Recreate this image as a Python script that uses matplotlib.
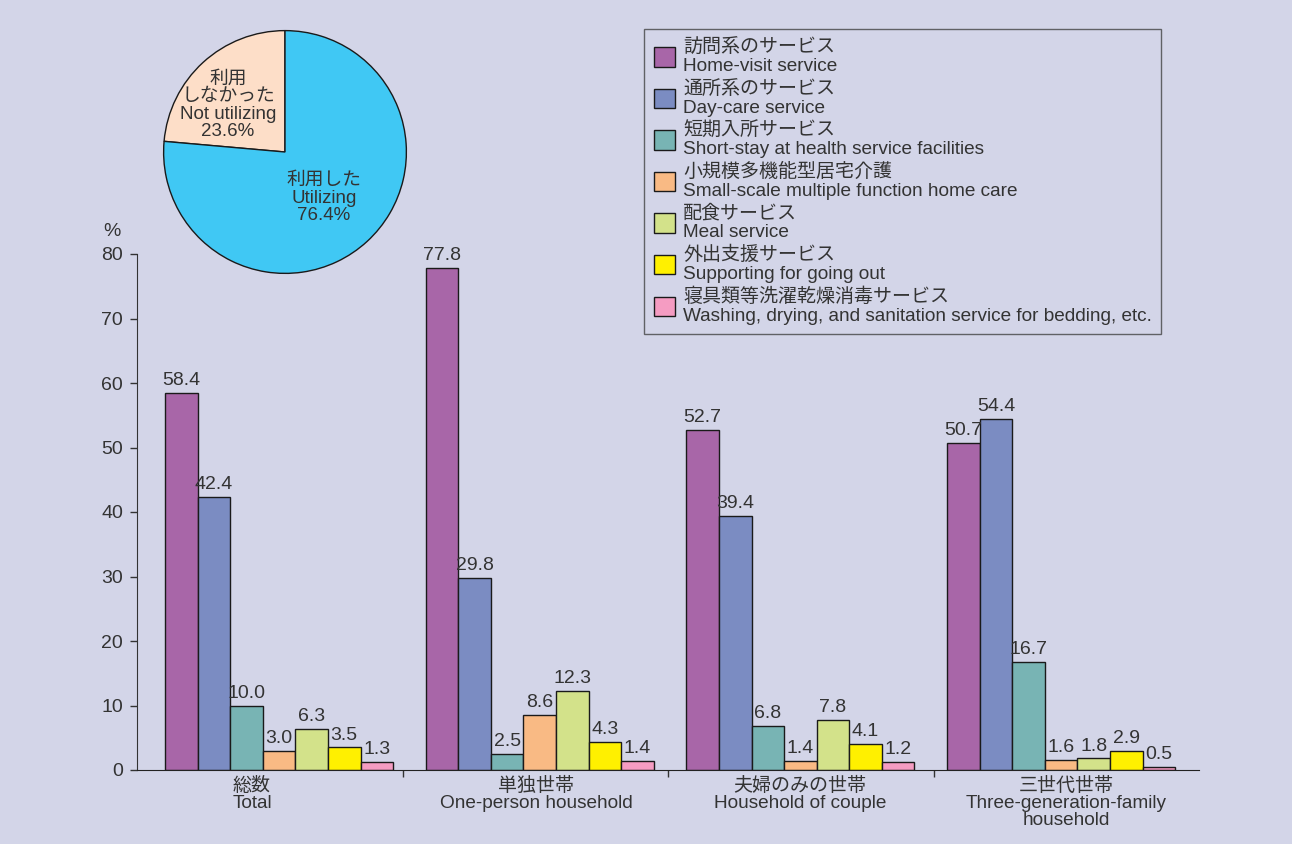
import matplotlib
matplotlib.use("Agg")
import numpy as np
import matplotlib.pyplot as plt
from matplotlib.patches import Patch

plt.rcParams['font.family'] = ['Liberation Sans', 'Noto Sans CJK JP', 'DejaVu Sans']

# === Data ===
groups_jp = ["総数", "単独世帯", "夫婦のみの世帯", "三世代世帯"]
groups_en = ["Total", "One-person household", "Household of couple", "Three-generation-family\nhousehold"]

services_jp = ["訪問系のサービス", "通所系のサービス", "短期入所サービス", "小規模多機能型居宅介護",
               "配食サービス", "外出支援サービス", "寝具類等洗濯乾燥消毒サービス"]
services_en = ["Home-visit service", "Day-care service", "Short-stay at health service facilities",
               "Small-scale multiple function home care", "Meal service", "Supporting for going out",
               "Washing, drying, and sanitation service for bedding, etc."]

home_visit = [58.4, 77.8, 52.7, 50.7]
day_care = [42.4, 29.8, 39.4, 54.4]
short_stay = [10.0, 2.5, 6.8, 16.7]
small_scale = [3.0, 8.6, 1.4, 1.6]
meal = [6.3, 12.3, 7.8, 1.8]
going_out = [3.5, 4.3, 4.1, 2.9]
bedding = [1.3, 1.4, 1.2, 0.5]

pie_labels = ["利用\nしなかった\nNot utilizing\n23.6%", "利用した\nUtilizing\n76.4%"]
pie_values = [23.6, 76.4]

colors = ["#A866A8", "#7B8CC2", "#78B4B4", "#F9BA84", "#D3E28A", "#FFF000", "#F59CC2"]
bg = "#D3D5E8"
txt = "#333333"

series = [home_visit, day_care, short_stay, small_scale, meal, going_out, bedding]

W, H = 1292, 844
fig = plt.figure(figsize=(W / 100, H / 100), dpi=100, facecolor=bg)

# === Bar chart ===
ax = fig.add_axes([137 / W, (H - 770) / H, (1199 - 137) / W, (770 - 254) / H])
ax.set_facecolor("none")
x = np.arange(len(groups_jp))
bw = 0.125
for j, vals in enumerate(series):
    pos = x + (j - 3) * bw
    bars = ax.bar(pos, vals, width=bw, color=colors[j], edgecolor="#1a1a1a", linewidth=1.0)
    for b, v in zip(bars, vals):
        ax.text(b.get_x() + b.get_width() / 2, v + 0.6, f"{v:.1f}", ha="center", va="bottom",
                fontsize=14, color=txt)

ax.set_xlim(-0.545, 3.529)
ax.set_ylim(0, 80)
ax.set_yticks(range(0, 81, 10))
ax.tick_params(axis="y", direction="out", length=5, width=1, colors=txt, labelsize=14, pad=5)
for s in ["top", "right"]:
    ax.spines[s].set_visible(False)
ax.spines["left"].set_color(txt)
ax.spines["bottom"].set_color("#222222")

label_pos = [-0.104, 0.986, 1.998, 3.019]
ax.set_xticks(label_pos)
ax.set_xticklabels([f"{j}\n{e}" for j, e in zip(groups_jp, groups_en)], fontsize=13.7,
                   color=txt, linespacing=1.0, va="top")
ax.tick_params(axis="x", which="major", length=0, pad=5)
ax.set_xticks([0.476, 1.492, 2.512], minor=True)
ax.tick_params(axis="x", which="minor", direction="out", length=5, width=1, color=txt)

ax.text(-0.0235, 1.043, "%", transform=ax.transAxes, fontsize=14, color=txt, ha="center", va="center")

# === Legend ===
handles = [Patch(facecolor=c, edgecolor="#1a1a1a", linewidth=1.0) for c in colors]
labels = [f"{j}\n{e}" for j, e in zip(services_jp, services_en)]
leg = fig.legend(handles, labels, loc="upper left", bbox_to_anchor=(644 / W, 1 - 29 / H),
                 frameon=True, fancybox=False, fontsize=13.7, handlelength=1.15, handleheight=1.2,
                 handletextpad=0.4, labelspacing=0.26, borderpad=0.5, borderaxespad=0)
leg.get_frame().set_edgecolor("#444444")
leg.get_frame().set_facecolor(bg)
leg.get_frame().set_linewidth(1.0)
for t in leg.get_texts():
    t.set_color(txt)
    t.set_linespacing(1.12)

# === Pie ===
pax = fig.add_axes([163 / W, (H - 274) / H, 244 / W, 244 / H])
pax.pie(pie_values, colors=["#FDDEC8", "#40C8F4"], startangle=90, counterclock=True,
        wedgeprops=dict(edgecolor="#1a1a1a", linewidth=1.0))
pax.set_xlim(-1.005, 1.005)
pax.set_ylim(-1.005, 1.005)
pax.set_aspect("equal")
pax.text(-0.47, 0.385, pie_labels[0], ha="center", va="center", fontsize=13.5, color=txt, linespacing=1.05)
pax.text(0.32, -0.38, pie_labels[1], ha="center", va="center", fontsize=13.5, color=txt, linespacing=1.05)

fig.savefig("out.png", dpi=100, facecolor=bg)
